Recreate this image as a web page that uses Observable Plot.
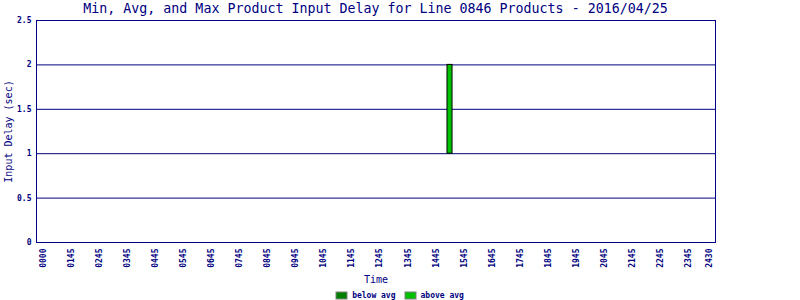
<!DOCTYPE html>
<html>
<head>
<meta charset="utf-8">
<script src="https://cdn.jsdelivr.net/npm/d3@7"></script>
<script src="https://cdn.jsdelivr.net/npm/@observablehq/plot@0.6"></script>
<style>
  body { margin: 0; background: #fff; }
  #wrap { width: 800px; height: 300px; position: relative; overflow: hidden; background: #fff; }
  #title { font: 13.3px "DejaVu Sans Mono", monospace; color: #000080; height: 16px; line-height: 16px;
           text-align: center; width: 751px; white-space: nowrap; padding-top: 0.5px; box-sizing: border-box; }
  #legend { position: absolute; left: 0; top: 288px; width: 800px; }
  #legend .lg-swatches { margin: 0; font: bold 8px "DejaVu Sans Mono", monospace; color: #000080; }
  #legend .lg-swatches-wrap { min-height: 14px; justify-content: center; flex-wrap: nowrap; }
  #legend .lg-swatches-wrap .lg-swatch { margin-right: 9px; }
  #legend .lg-swatches-wrap .lg-swatch:last-child { margin-right: 0; }
  #legend .lg-swatch > svg { margin-right: 5px; }
  #legend .lg-swatch rect { stroke: #808080; stroke-width: 1; }
</style>
</head>
<body>
<div id="wrap">
  <div id="title"></div>
  <div id="chart"></div>
  <div id="legend"></div>
</div>
<script>
// ---- data ----
const titleText = "Min, Avg, and Max Product Input Delay for Line 0846 Products - 2016/04/25";
const xTitle = "Time";
const yTitle = "Input Delay (sec)";

// time slots (HHMM) with product input delays (sec)
const times = ["1515"];
const minDelay = [1];
const avgDelay = [1];
const maxDelay = [2];

// x-axis tick labels and their positions (hours along the axis)
const tickLabels = ["0000","0145","0245","0345","0445","0545","0645","0745","0845","0945","1045","1145",
                    "1245","1345","1445","1545","1645","1745","1845","1945","2045","2145","2245","2345","2430"];
const tickHours = [0.75,1.75,2.75,3.75,4.75,5.75,6.75,7.75,8.75,9.75,10.75,11.75,
                   12.75,13.75,14.75,15.75,16.75,17.75,18.75,19.75,20.75,21.75,22.75,23.75,24.5];
const yTicks = [0, 0.5, 1, 1.5, 2, 2.5];
const gridValues = [0.5, 1, 1.5, 2];

const legendLabels = ["below avg", "above avg"];
const legendColors = ["#008000", "#00c000"];

// ---- build segments ----
const toHour = s => +s.slice(0, 2) + (+s.slice(2)) / 60;
const segments = [];
times.forEach((t, i) => {
  const h = toHour(t);
  if (avgDelay[i] > minDelay[i]) segments.push({hour: h, lo: minDelay[i], hi: avgDelay[i], seg: legendLabels[0]});
  if (maxDelay[i] > avgDelay[i]) segments.push({hour: h, lo: avgDelay[i], hi: maxDelay[i], seg: legendLabels[1]});
});
const barHalf = 0.09;
const labelByHour = new Map(tickHours.map((h, i) => [h, tickLabels[i]]));

document.getElementById("title").textContent = titleText;

const navy = "#000080";
const chart = Plot.plot({
  width: 800,
  height: 270,
  marginTop: 4,
  marginBottom: 44,
  marginLeft: 36,
  marginRight: 85,
  style: {fontFamily: "DejaVu Sans Mono, monospace", fontSize: "8px", color: navy, background: "#fff", overflow: "visible"},
  x: {domain: [0.5, 24.72], axis: null},
  y: {domain: [0, 2.5], axis: null},
  color: {domain: legendLabels, range: legendColors},
  marks: [
    Plot.ruleY(gridValues, {stroke: navy, strokeWidth: 1}),
    Plot.rect(segments, {x1: d => d.hour - barHalf, x2: d => d.hour + barHalf, y1: "lo", y2: "hi",
                         fill: "seg", stroke: "#000", strokeWidth: 1}),
    Plot.frame({stroke: navy, strokeWidth: 1}),
    Plot.axisX(tickHours, {tickSize: 0, tickPadding: 6, tickRotate: -90, label: null, fontWeight: "bold",
                           tickFormat: d => labelByHour.get(d)}),
    Plot.axisY(yTicks, {tickSize: 0, tickPadding: 5, label: null, fontWeight: "bold", tickFormat: d => String(d)}),
    Plot.text([xTitle], {frameAnchor: "bottom", dy: 40, lineAnchor: "bottom", fontSize: 10}),
    Plot.text([yTitle], {frameAnchor: "left", dx: -28, rotate: -90, textAnchor: "middle", fontSize: 10})
  ]
});
document.getElementById("chart").appendChild(chart);

const legend = Plot.legend({
  legend: "swatches",
  className: "lg",
  swatchWidth: 11,
  swatchHeight: 7,
  color: {domain: legendLabels, range: legendColors}
});
document.getElementById("legend").appendChild(legend);
</script>
</body>
</html>
